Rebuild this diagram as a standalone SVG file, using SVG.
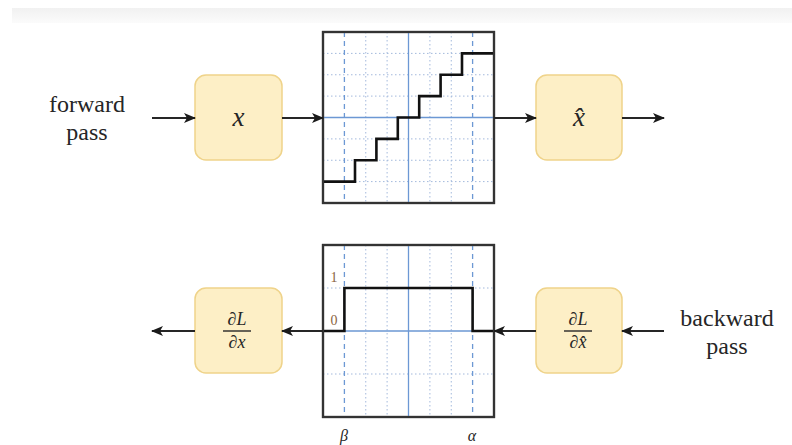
<svg xmlns="http://www.w3.org/2000/svg" width="792" height="445" viewBox="0 0 792 445">
  <defs>
    <linearGradient id="band" x1="0" y1="0" x2="0" y2="1">
      <stop offset="0" stop-color="#f1f1f1"/>
      <stop offset="1" stop-color="#fbfbfb"/>
    </linearGradient>
    <marker id="head" viewBox="0 0 12 10" refX="11" refY="5" markerWidth="12" markerHeight="10" markerUnits="userSpaceOnUse" orient="auto">
      <path d="M0,0 L12,5 L0,10 L3,5 Z" fill="#1a1a1a"/>
    </marker>
    <clipPath id="clipTop"><rect x="323" y="32" width="171" height="171"/></clipPath>
    <clipPath id="clipBot"><rect x="323" y="245" width="171" height="172"/></clipPath>
  </defs>
  <style>
    .node { fill: #fdefc6; stroke: #efd38a; stroke-width: 1.5; }
    .frame { fill: #ffffff; stroke: #333333; stroke-width: 2.2; }
    .dot { stroke: #a3b9dc; stroke-width: 1; stroke-dasharray: 1.5 2.5; fill: none; }
    .dash { stroke: #6c98d4; stroke-width: 1.3; stroke-dasharray: 5 4; fill: none; }
    .axis { stroke: #6c98d4; stroke-width: 1.3; fill: none; }
    .curve { stroke: #111111; stroke-width: 2.6; fill: none; stroke-linejoin: miter; }
    .conn { stroke: #262626; stroke-width: 2; fill: none; marker-end: url(#head); }
    .lbl { font-family: "Times New Roman", "Liberation Serif", serif; font-size: 24px; fill: #262626; text-anchor: middle; }
    .math { font-family: "Times New Roman", "Liberation Serif", serif; font-style: italic; fill: #262626; text-anchor: middle; }
    .tick { font-family: "Times New Roman", "Liberation Serif", serif; font-size: 14px; fill: #8a6440; text-anchor: middle; }
  </style>

  <!-- faint header strip -->
  <rect x="12" y="8" width="780" height="15" fill="url(#band)"/>

  <!-- side captions -->
  <g id="forward-label">
    <text class="lbl" x="87" y="112">forward</text>
    <text class="lbl" x="87" y="140">pass</text>
  </g>
  <g id="backward-label">
    <text class="lbl" x="727" y="326">backward</text>
    <text class="lbl" x="727" y="354">pass</text>
  </g>

  <!-- forward: quantizer staircase -->
  <g id="quantizer-plot">
    <rect class="frame" x="323" y="32" width="171" height="171"/>
    <g clip-path="url(#clipTop)">
      <path class="dot" d="M365.75,32 V203 M387.1,32 V203 M429.9,32 V203 M451.25,32 V203"/>
      <path class="dot" d="M323,53.4 H494 M323,74.75 H494 M323,96.1 H494 M323,138.9 H494 M323,160.25 H494 M323,181.6 H494"/>
      <path class="dash" d="M344.4,32 V203 M472.6,32 V203"/>
      <path class="axis" d="M408.5,32 V203 M323,117.5 H494"/>
      <path class="curve" d="M323,181.6 H355 V160.25 H376.4 V138.9 H397.8 V117.5 H419.2 V96.1 H440.6 V74.75 H462 V53.4 H494"/>
    </g>
    <rect x="323" y="32" width="171" height="171" fill="none" stroke="#333333" stroke-width="2.2"/>
  </g>

  <!-- backward: straight-through gradient window -->
  <g id="gradient-plot">
    <rect class="frame" x="323" y="245" width="171" height="172"/>
    <g clip-path="url(#clipBot)">
      <path class="dot" d="M365.75,245 V417 M387.1,245 V417 M429.9,245 V417 M451.25,245 V417"/>
      <path class="dot" d="M323,288 H494 M323,374 H494"/>
      <path class="dash" d="M344.4,245 V417 M472.6,245 V417"/>
      <path class="axis" d="M408.5,245 V417 M323,331 H494"/>
      <path class="curve" d="M323,331 H344.4 V288 H472.6 V331 H494"/>
    </g>
    <rect x="323" y="245" width="171" height="172" fill="none" stroke="#333333" stroke-width="2.2"/>
    <text class="tick" x="334" y="282">1</text>
    <text class="tick" x="334" y="325">0</text>
    <text class="math" x="344" y="441" font-size="16">β</text>
    <text class="math" x="472" y="441" font-size="16">α</text>
  </g>

  <!-- nodes -->
  <g id="node-x">
    <rect class="node" x="195" y="75" width="87" height="85" rx="11"/>
    <text class="math" x="238.5" y="126" font-size="27">x</text>
  </g>
  <g id="node-xhat">
    <rect class="node" x="536" y="75" width="86" height="85" rx="11"/>
    <text class="math" x="579" y="126" font-size="27">x̂</text>
  </g>
  <g id="node-dLdx">
    <rect class="node" x="195" y="288" width="87" height="85" rx="11"/>
    <text class="math" x="237" y="325" font-size="18">∂L</text>
    <line x1="223" y1="331" x2="251" y2="331" stroke="#262626" stroke-width="1.4"/>
    <text class="math" x="237" y="348" font-size="18">∂x</text>
  </g>
  <g id="node-dLdxhat">
    <rect class="node" x="536" y="288" width="86" height="85" rx="11"/>
    <text class="math" x="578" y="325" font-size="18">∂L</text>
    <line x1="564" y1="331" x2="592" y2="331" stroke="#262626" stroke-width="1.4"/>
    <text class="math" x="578" y="348" font-size="18">∂x̂</text>
  </g>

  <!-- connectors -->
  <g id="connectors">
    <line class="conn" x1="152" y1="118" x2="195" y2="118"/>
    <line class="conn" x1="282" y1="118" x2="323" y2="118"/>
    <line class="conn" x1="494" y1="118" x2="536" y2="118"/>
    <line class="conn" x1="622" y1="118" x2="664" y2="118"/>
    <line class="conn" x1="664" y1="331" x2="622" y2="331"/>
    <line class="conn" x1="536" y1="331" x2="494" y2="331"/>
    <line class="conn" x1="323" y1="331" x2="282" y2="331"/>
    <line class="conn" x1="195" y1="331" x2="152" y2="331"/>
  </g>
</svg>
